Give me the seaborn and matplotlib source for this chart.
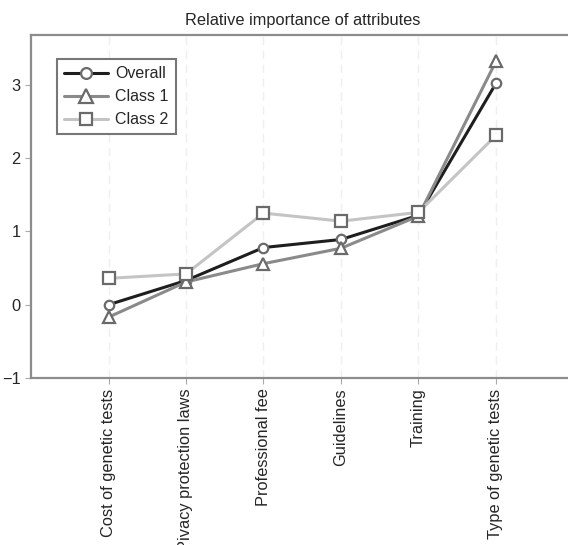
import numpy as np
import pandas as pd
import seaborn as sns
import matplotlib
matplotlib.use("Agg")
import matplotlib.pyplot as plt

attributes = ["Cost of genetic tests", "Pivacy protection laws", "Professional fee",
              "Guidelines", "Training", "Type of genetic tests"]
overall = [0.00, 0.33, 0.78, 0.89, 1.22, 3.02]
class1 = [-0.17, 0.31, 0.56, 0.77, 1.21, 3.32]
class2 = [0.36, 0.42, 1.25, 1.14, 1.26, 2.31]

sns.set_style("white")
plt.rcParams['font.family'] = ['Liberation Sans', 'DejaVu Sans']

fig = plt.figure(figsize=(5.68, 5.45), dpi=100)
ax = fig.add_axes([0.0546, 0.3064, 0.955, 0.6294])

pos = np.arange(len(attributes))
series = [("Overall", overall, "#1e1e1e", "o", 6.8),
          ("Class 1", class1, "#8a8a8a", "^", 8.3),
          ("Class 2", class2, "#c4c4c4", "s", 8.0)]
for name, vals, col, mk, ms in series:
    sns.lineplot(x=pos, y=vals, ax=ax, color=col, lw=2.2, marker=mk, markersize=ms,
                 markerfacecolor="white", markeredgecolor="#6a6a6a", markeredgewidth=1.6,
                 label=name)

ax.set_xlim(-1, 6)
ax.set_ylim(-1, 3.68)
ax.set_xticks(pos)
ax.set_xticklabels(attributes, rotation=90, fontsize=11.8)
ax.set_yticks([-1, 0, 1, 2, 3])
ax.set_yticklabels(["\u22121", "0", "1", "2", "3"], fontsize=11.8)
ax.tick_params(axis="both", length=4, color="#aaaaaa", left=True, bottom=True)
ax.xaxis.grid(True, ls=(0, (6, 4)), color="#efefef", lw=1)
ax.yaxis.grid(False)
for s in ["left", "bottom", "top"]:
    ax.spines[s].set_color("#8c8c8c")
    ax.spines[s].set_linewidth(1.6)
ax.spines["right"].set_visible(False)

ax.set_title("Relative importance of attributes", fontsize=11.8, pad=7)
leg = ax.legend(loc="upper left", bbox_to_anchor=(0.048, 0.93), fontsize=11.5,
                frameon=True, fancybox=False, framealpha=1, edgecolor="#777777",
                handlelength=2.75, handletextpad=0.45, borderpad=0.45, labelspacing=0.5,
                borderaxespad=0, markerscale=1.15)
leg.get_frame().set_linewidth(1.5)

fig.savefig("out.png", dpi=100)
